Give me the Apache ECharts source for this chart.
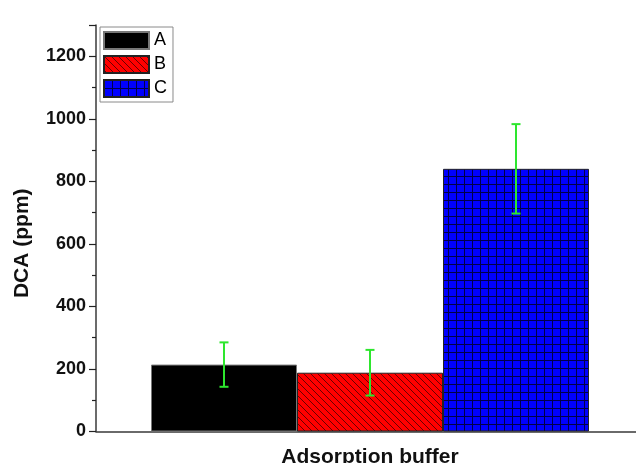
<!DOCTYPE html>
<html>
<head>
<meta charset="utf-8">
<script src="https://cdn.jsdelivr.net/npm/echarts@6/dist/echarts.min.js"></script>
<style>
  html, body { margin: 0; padding: 0; background: #fff; }
  #chart { width: 636px; height: 463px; }
</style>
</head>
<body>
<div id="chart"></div>
<script>
// Data
const categories = ['Adsorption buffer'];
const seriesNames = ['A', 'B', 'C'];
const dcaValues = [214, 188, 840];
const dcaErrors = [71, 73, 143];
const yTickValues = [0, 200, 400, 600, 800, 1000, 1200];

const FONT = 'Arial, "Liberation Sans", sans-serif';
const BAR_W = 146;

// Hatched red fill (backslash diagonals)
function hatchPattern() {
  const s = 7;
  const c = document.createElement('canvas');
  c.width = s; c.height = s;
  const g = c.getContext('2d');
  g.fillStyle = '#ff0000';
  g.fillRect(0, 0, s, s);
  g.strokeStyle = '#6a0000';
  g.lineWidth = 1;
  for (const o of [-s, 0, s]) {
    g.beginPath();
    g.moveTo(o - 1, -1);
    g.lineTo(o + s + 1, s + 1);
    g.stroke();
  }
  return c;
}

// Blue fill with a square grid
function gridPattern() {
  const s = 8;
  const c = document.createElement('canvas');
  c.width = s; c.height = s;
  const g = c.getContext('2d');
  g.fillStyle = '#0000ff';
  g.fillRect(0, 0, s, s);
  g.strokeStyle = '#00004a';
  g.lineWidth = 1;
  g.beginPath();
  g.moveTo(0.5, 0); g.lineTo(0.5, s);
  g.moveTo(0, 0.5); g.lineTo(s, 0.5);
  g.stroke();
  return c;
}

const fills = [
  '#000000',
  { image: hatchPattern(), repeat: 'repeat' },
  { image: gridPattern(), repeat: 'repeat' }
];

const barSeries = seriesNames.map((name, i) => ({
  name: name,
  type: 'bar',
  data: [dcaValues[i]],
  barWidth: BAR_W,
  barGap: '0%',
  itemStyle: { color: fills[i], borderColor: i === 0 ? '#777' : '#222', borderWidth: 1 },
  z: 2
}));

const errorData = dcaValues.map((v, i) => [0, v - dcaErrors[i], v + dcaErrors[i], i]);

const chart = echarts.init(document.getElementById('chart'), null, { renderer: 'canvas' });
chart.setOption({
  backgroundColor: '#ffffff',
  animation: false,
  grid: { left: 96, top: 25, bottom: 31.5, right: -8, containLabel: false, outerBoundsMode: 'none' },
  legend: {
    orient: 'vertical',
    left: 100,
    top: 27,
    padding: [4, 6, 4, 3],
    icon: 'rect',
    itemWidth: 45,
    itemHeight: 17,
    itemGap: 5,
    borderColor: '#8a8a8a',
    borderWidth: 1,
    backgroundColor: '#ffffff',
    data: seriesNames,
    textStyle: { fontFamily: FONT, fontSize: 18, color: '#000' }
  },
  xAxis: {
    type: 'category',
    data: categories,
    axisLine: { lineStyle: { color: '#3a3a3a', width: 1.5 } },
    axisTick: { alignWithLabel: true, length: 8, lineStyle: { color: '#222', width: 1.2 } },
    axisLabel: { margin: 15, fontFamily: FONT, fontSize: 21, fontWeight: 'bold', color: '#111' }
  },
  yAxis: {
    type: 'value',
    min: 0,
    max: 1300,
    interval: 200,
    name: 'DCA (ppm)',
    nameLocation: 'middle',
    nameGap: 63,
    nameTextStyle: { fontFamily: FONT, fontSize: 21, fontWeight: 'bold', color: '#111', padding: [0, 30, 0, 0] },
    axisLine: { show: true, lineStyle: { color: '#3a3a3a', width: 1.5 } },
    axisTick: { show: true, inside: false, length: 7, lineStyle: { color: '#222', width: 1.2 } },
    minorTick: { show: true, splitNumber: 2, length: 4, lineStyle: { color: '#222', width: 1.2 } },
    splitLine: { show: false },
    axisLabel: {
      margin: 10,
      showMaxLabel: false,
      fontFamily: FONT, fontSize: 18, fontWeight: 'bold', color: '#111',
      formatter: v => (yTickValues.indexOf(v) >= 0 ? String(v) : '')
    }
  },
  series: barSeries.concat([{
    name: 'error',
    type: 'custom',
    data: errorData,
    encode: { x: 0, y: [1, 2] },
    z: 5,
    silent: true,
    renderItem: (params, api) => {
      const k = api.value(3);
      const lo = api.coord([api.value(0), api.value(1)]);
      const hi = api.coord([api.value(0), api.value(2)]);
      const x = lo[0] + (k - 1) * BAR_W;
      const cap = 4.5;
      const style = { stroke: '#2ee62e', lineWidth: 2, fill: null };
      return {
        type: 'group',
        children: [
          { type: 'line', shape: { x1: x, y1: hi[1], x2: x, y2: lo[1] }, style },
          { type: 'line', shape: { x1: x - cap, y1: hi[1], x2: x + cap, y2: hi[1] }, style },
          { type: 'line', shape: { x1: x - cap, y1: lo[1], x2: x + cap, y2: lo[1] }, style }
        ]
      };
    }
  }])
});
</script>
</body>
</html>
